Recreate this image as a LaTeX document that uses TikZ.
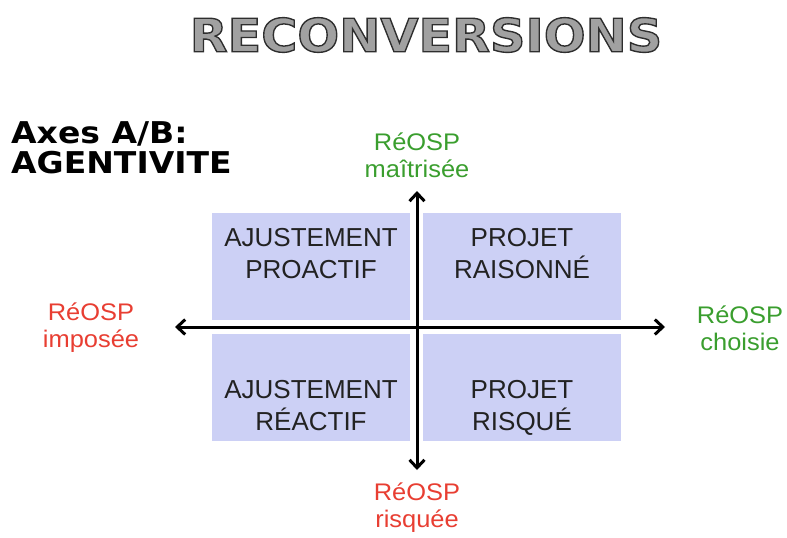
\documentclass[tikz,border=0pt]{standalone}
\usepackage{fontspec}
\setmainfont{Liberation Sans}
\newfontfamily\titlefont[FakeStretch=1.07,FakeBold=3]{DejaVu Sans Bold}
\newfontfamily\headfont[FakeStretch=1.1]{DejaVu Sans Bold}
\newfontfamily\lblfont[FakeStretch=1.06]{Liberation Sans}
\usetikzlibrary{arrows.meta}
\definecolor{quadfill}{RGB}{204,208,245}
\definecolor{redlbl}{RGB}{232,62,50}
\definecolor{greenlbl}{RGB}{58,158,46}
\definecolor{boxtext}{RGB}{34,34,34}
% grey fill with a dark stroke for outlined lettering (stroke comes from the emboldened font)
\newcommand{\outlinedtitle}[1]{\special{pdf:bcolor [0.63] [0.18]}#1\special{pdf:ecolor}}
\begin{document}
\begin{tikzpicture}[x=1pt,y=-1pt,
  quad/.style={fill=quadfill,draw=none},
  quadtext/.style={align=center,text=boxtext,font=\fontsize{26}{32}\selectfont,anchor=north},
  axislbl/.style={align=center,font=\lblfont\fontsize{24}{27}\selectfont},
  axis/.style={line width=3pt,-{Straight Barb[length=8pt,width=15pt,line width=3pt]}}]
\useasboundingbox (0,0) rectangle (787,538);
% title in outlined grey capitals
\node (title) at (426,35) {\titlefont\fontsize{46}{50}\selectfont\outlinedtitle{RECONVERSIONS}};
% heading on the left
\node[anchor=north west,align=left,inner sep=0pt,font=\headfont\fontsize{30}{30}\selectfont] (head) at (11,121) {Axes A/B:\\AGENTIVITE};
% four quadrants
\fill[quad] (212,213) rectangle (410,320);
\fill[quad] (423,213) rectangle (621,320);
\fill[quad] (212,334) rectangle (410,441);
\fill[quad] (423,334) rectangle (621,441);
\node[quadtext] (aproac) at (311,225) {AJUSTEMENT\\PROACTIF};
\node[quadtext] (praison) at (522,225) {PROJET\\RAISONNÉ};
\node[quadtext] (areact) at (311,377) {AJUSTEMENT\\RÉACTIF};
\node[quadtext] (prisq) at (522,377) {PROJET\\RISQUÉ};
% axis end labels
\node[axislbl,text=greenlbl] (top) at (417,155) {RéOSP\\maîtrisée};
\node[axislbl,text=redlbl] (left) at (91,328) {RéOSP\\imposée};
\node[axislbl,text=greenlbl] (right) at (740,328) {RéOSP\\choisie};
\node[axislbl,text=redlbl] (bottom) at (417,508) {RéOSP\\risquée};
% axes
\coordinate (o) at (417,327);
\coordinate (xl) at (175,327);
\coordinate (xr) at (665,327);
\coordinate (yt) at (417,191);
\coordinate (yb) at (417,470);
\draw[axis] (o) -- (xl);
\draw[axis] (o) -- (xr);
\draw[axis] (o) -- (yt);
\draw[axis] (o) -- (yb);
\end{tikzpicture}
\end{document}
